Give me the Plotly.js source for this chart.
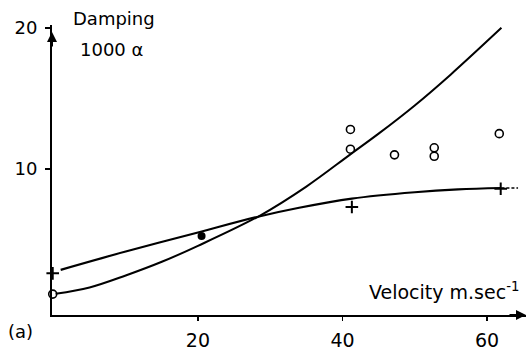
<!DOCTYPE html>
<html>
<head>
<meta charset="utf-8">
<script src="https://cdn.plot.ly/plotly-3.0.1.min.js"></script>
<style>html,body{margin:0;padding:0;background:#fff;}#chart{width:528px;height:350px;}</style>
</head>
<body>
<div id="chart"></div>
<script>
// Fitted curve 1 (steep rise)
const curveAX = [0.3, 5, 10, 15, 20, 28.6, 35, 41, 45, 50, 55, 62];
const curveAY = [1.15, 1.6, 2.45, 3.42, 4.55, 6.7, 8.75, 11.0, 12.5, 14.5, 16.7, 20.0];
// Fitted curve 2 (saturating)
const curveBX = [1, 10, 20, 28.6, 34, 41.3, 50, 56, 62];
const curveBY = [2.85, 4.15, 5.5, 6.65, 7.25, 7.9, 8.35, 8.55, 8.65];
const curveBTailX = [62, 64.3];
const curveBTailY = [8.65, 8.65];
// Measured points: open circles
const circleX = [-0.1, 41.1, 41.1, 47.2, 52.7, 52.7, 61.7];
const circleY = [1.13, 12.8, 11.4, 11.0, 11.5, 10.9, 12.5];
// Measured points: plus markers
const plusX = [-0.1, 41.3, 61.9];
const plusY = [2.6, 7.3, 8.6];
// Measured point: filled dot
const dotX = [20.5];
const dotY = [5.25];
// Tick values / labels
const xTicks = [20, 40, 60];
const yTicks = [10, 20];

const FONT = 'DejaVu Sans, Liberation Sans, sans-serif';

const traces = [
  {x: curveAX, y: curveAY, mode: 'lines', line: {color: '#000', width: 2, shape: 'spline', smoothing: 1}, hoverinfo: 'skip', cliponaxis: false},
  {x: curveBX, y: curveBY, mode: 'lines', line: {color: '#000', width: 2.2, shape: 'spline', smoothing: 1}, hoverinfo: 'skip', cliponaxis: false},
  {x: curveBTailX, y: curveBTailY, mode: 'lines', line: {color: '#000', width: 1.5, dash: '3px,2px'}, hoverinfo: 'skip', cliponaxis: false},
  {x: circleX, y: circleY, mode: 'markers', marker: {symbol: 'circle-open', size: 8, color: '#000', line: {width: 1.6, color: '#000'}}, cliponaxis: false},
  {x: plusX, y: plusY, mode: 'markers', marker: {symbol: 'cross-thin-open', size: 9, color: '#000', line: {width: 2, color: '#000'}}, cliponaxis: false},
  {x: dotX, y: dotY, mode: 'markers', marker: {symbol: 'circle', size: 8, color: '#000'}, cliponaxis: false}
];

const layout = {
  width: 528, height: 350,
  margin: {l: 52, r: 2, t: 25, b: 35},
  paper_bgcolor: '#fff', plot_bgcolor: '#fff',
  showlegend: false,
  font: {family: FONT, color: '#000', size: 19},
  xaxis: {
    range: [-0.2, 65.4], showgrid: false, zeroline: false,
    showline: true, linecolor: '#000', linewidth: 2,
    tickmode: 'array', tickvals: xTicks, ticktext: xTicks.map(String),
    ticks: 'outside', ticklen: 4, tickwidth: 1.5, tickcolor: '#000',
    ticklabelstandoff: 3,
    tickfont: {family: FONT, size: 19, color: '#000'}
  },
  yaxis: {
    range: [-0.35, 20.2], showgrid: false, zeroline: false,
    showline: true, linecolor: '#000', linewidth: 2,
    tickmode: 'array', tickvals: yTicks, ticktext: yTicks.map(String),
    ticks: 'outside', ticklen: 5, tickwidth: 1.5, tickcolor: '#000',
    ticklabelstandoff: 4,
    tickfont: {family: FONT, size: 18, color: '#000'}
  },
  annotations: [
    {xref: 'x', yref: 'y', x: 65.4, y: -0.35, ax: -18, ay: 0, showarrow: true, arrowhead: 2, arrowsize: 1, arrowwidth: 2, arrowcolor: '#000', text: ''},
    {xref: 'x', yref: 'y', x: -0.2, y: 19.7, ax: 0, ay: 16, showarrow: true, arrowhead: 2, arrowsize: 1, arrowwidth: 2, arrowcolor: '#000', text: ''},
    {xref: 'paper', yref: 'paper', x: 0.040, y: 1.021, xanchor: 'left', yanchor: 'middle', showarrow: false, text: 'Damping', font: {family: FONT, size: 18}},
    {xref: 'paper', yref: 'paper', x: 0.055, y: 0.914, xanchor: 'left', yanchor: 'middle', showarrow: false, text: '1000 α', font: {family: FONT, size: 18}},
    {xref: 'paper', yref: 'paper', x: 0.99, y: 0.083, xanchor: 'right', yanchor: 'middle', showarrow: false, text: 'Velocity m.sec<sup>-1</sup>', font: {family: FONT, size: 19}},
    {xref: 'paper', yref: 'paper', x: -0.0675, y: -0.0586, xanchor: 'center', yanchor: 'middle', showarrow: false, text: '(a)', font: {family: FONT, size: 18}}
  ]
};

Plotly.newPlot('chart', traces, layout, {staticPlot: true, displayModeBar: false});
</script>
</body>
</html>
